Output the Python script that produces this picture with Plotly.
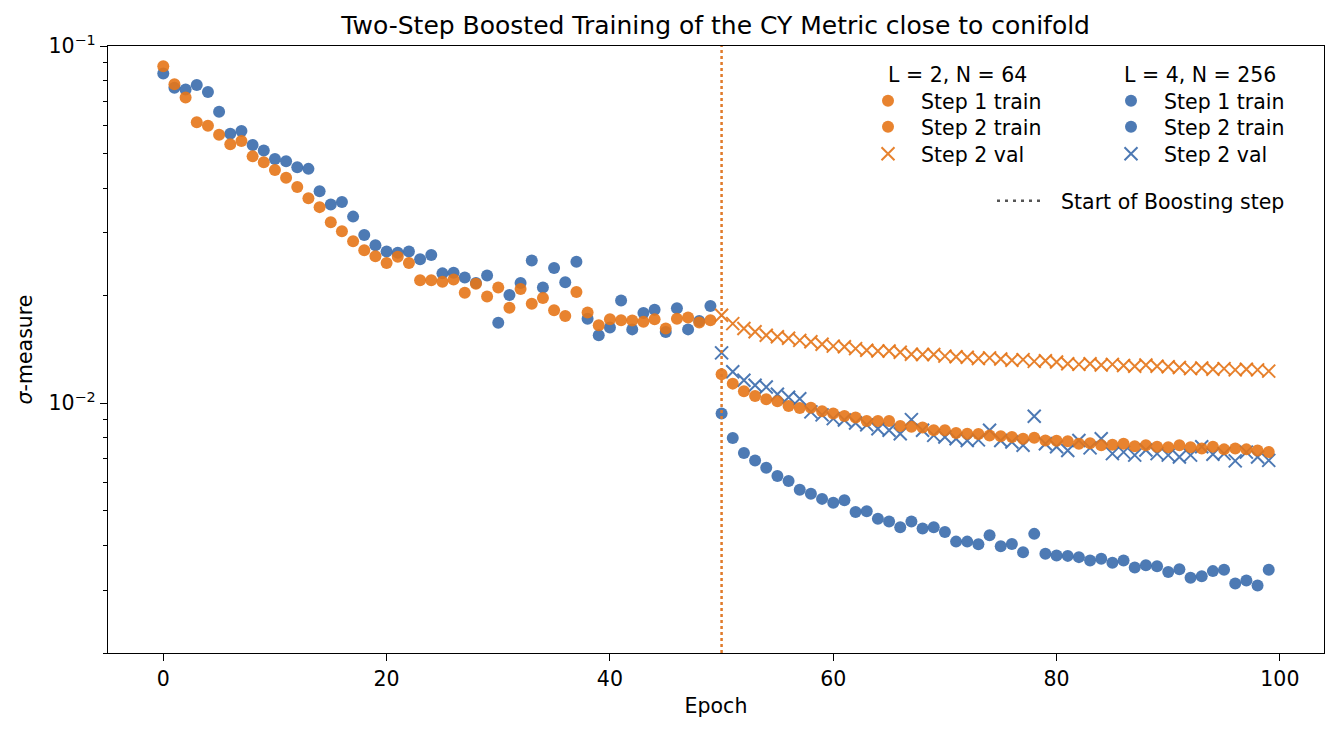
import plotly.graph_objects as go
import math

# ---------------- data ----------------
epochs_step1 = list(range(0, 50))
epochs_step2 = list(range(50, 100))

orange_step1_train = [0.0877, 0.0781, 0.0718, 0.0612, 0.0598, 0.0564, 0.0531, 0.0542, 0.0491, 0.0473,
                      0.0450, 0.0428, 0.0403, 0.0375, 0.0354, 0.0321, 0.0303, 0.0284, 0.0268, 0.0258,
                      0.0247, 0.0257, 0.0247, 0.0221, 0.0221, 0.0219, 0.0222, 0.0204, 0.0216, 0.0199,
                      0.0211, 0.0185, 0.0209, 0.0190, 0.0197, 0.0182, 0.01756, 0.0205, 0.01795, 0.01654,
                      0.01719, 0.01708, 0.01705, 0.0169, 0.01719, 0.01619, 0.01725, 0.01737, 0.01682, 0.01708]

blue_step1_train = [0.0837, 0.0764, 0.0756, 0.0778, 0.0743, 0.0655, 0.0568, 0.0578, 0.0528, 0.0510,
                    0.0483, 0.0476, 0.0458, 0.0453, 0.0392, 0.0360, 0.0366, 0.0333, 0.0296, 0.0277,
                    0.0266, 0.0264, 0.0266, 0.0253, 0.0260, 0.0231, 0.0232, 0.0225, 0.0217, 0.0228,
                    0.0168, 0.0201, 0.0217, 0.0251, 0.0211, 0.0239, 0.0218, 0.0249, 0.01725, 0.0155,
                    0.0163, 0.0194, 0.0161, 0.0179, 0.01826, 0.01584, 0.01845, 0.0161, 0.0170, 0.01873]

orange_step2_train = [0.01206, 0.01135, 0.0108, 0.01048, 0.01026, 0.01013, 0.00983, 0.0097, 0.00972, 0.0095,
                      0.00936, 0.00921, 0.00912, 0.00892, 0.00892, 0.00892, 0.00864, 0.00859, 0.00855, 0.0084,
                      0.0084, 0.00826, 0.00822, 0.0082, 0.00813, 0.00808, 0.00805, 0.00796, 0.00801, 0.00787,
                      0.00785, 0.00783, 0.0077, 0.00773, 0.00763, 0.00766, 0.0077, 0.00758, 0.00763, 0.00756,
                      0.00753, 0.00763, 0.00753, 0.00747, 0.00756, 0.00743, 0.00747, 0.00743, 0.00738, 0.0073]

blue_step2_train = [0.00936, 0.0080, 0.00726, 0.00692, 0.0066, 0.00626, 0.00606, 0.00573, 0.00558, 0.0054,
                    0.00527, 0.00535, 0.00496, 0.00499, 0.00475, 0.00467, 0.0045, 0.00467, 0.00446, 0.0045,
                    0.00436, 0.0041, 0.0041, 0.00403, 0.00427, 0.00398, 0.00404, 0.00383, 0.00431, 0.00379,
                    0.00375, 0.00374, 0.00371, 0.00363, 0.00367, 0.00358, 0.00363, 0.00347, 0.00352, 0.0035,
                    0.00337, 0.00343, 0.00325, 0.00328, 0.00339, 0.00342, 0.00313, 0.00319, 0.00309, 0.00342]

orange_step2_val = [0.01764, 0.01671, 0.01619, 0.01585, 0.0155, 0.01535, 0.0152, 0.0150, 0.01486, 0.01463,
                    0.01445, 0.0144, 0.01422, 0.01407, 0.0140, 0.0140, 0.01389, 0.01372, 0.0137, 0.0137,
                    0.01355, 0.0135, 0.01345, 0.01335, 0.0134, 0.0133, 0.0132, 0.01325, 0.0131, 0.01315,
                    0.01305, 0.0129, 0.01285, 0.0129, 0.0128, 0.01285, 0.01275, 0.0127, 0.0128, 0.0127,
                    0.01265, 0.0126, 0.0125, 0.01255, 0.01245, 0.0125, 0.0124, 0.01245, 0.0124, 0.0123]

blue_step2_val = [0.01384, 0.01225, 0.0116, 0.01123, 0.0111, 0.0106, 0.0104, 0.0103, 0.00946, 0.00928,
                  0.00906, 0.00898, 0.00881, 0.0087, 0.00849, 0.0084, 0.00822, 0.0090, 0.0084, 0.00813,
                  0.00805, 0.00796, 0.00787, 0.0079, 0.0084, 0.00787, 0.00779, 0.00763, 0.0092, 0.0077,
                  0.00756, 0.00738, 0.00787, 0.0075, 0.00796, 0.00723, 0.0073, 0.00716, 0.0074, 0.00723,
                  0.00716, 0.00707, 0.00716, 0.00756, 0.0072, 0.00723, 0.0069, 0.0073, 0.00707, 0.00692]

boost_epoch = 50

x_ticks = [0, 20, 40, 60, 80, 100]
y_major = [0.01, 0.1]
y_major_text = ["10<sup>−2</sup>", "10<sup>−1</sup>"]
y_minor = [k * 1e-3 for k in range(2, 10)] + [k * 1e-2 for k in range(2, 10)]

headers = ["L = 2, N = 64", "L = 4, N = 256"]
entry_names = ["Step 1 train", "Step 2 train", "Step 2 val"]
boost_name = "Start of Boosting step"

# ---------------- style ----------------
BLUE = "#3a6bac"
ORANGE = "#e57518"
FONT = "DejaVu Sans"
FS = 20.5
MS = 12
NB = "\u00a0\u00a0"
W, H = 1334, 731

fig = go.Figure()

def circ(x, y, color, name, legend):
    return go.Scatter(x=x, y=y, mode="markers", name=NB + name, legend=legend,
                      marker=dict(symbol="circle", size=MS, color=color, opacity=0.9,
                                  line=dict(width=0)))

def cross(x, y, color, name, legend):
    return go.Scatter(x=x, y=y, mode="markers", name=NB + name, legend=legend,
                      marker=dict(symbol="x-thin", size=MS + 1, color=color, opacity=0.9,
                                  line=dict(width=2, color=color)))

# blue (L=4) first, orange on top; each legend row is its own legend box
fig.add_trace(circ(epochs_step1, blue_step1_train, BLUE, entry_names[0], "legend4"))
fig.add_trace(circ(epochs_step2, blue_step2_train, BLUE, entry_names[1], "legend5"))
fig.add_trace(cross(epochs_step2, blue_step2_val, BLUE, entry_names[2], "legend6"))
fig.add_trace(circ(epochs_step1, orange_step1_train, ORANGE, entry_names[0], "legend"))
fig.add_trace(circ(epochs_step2, orange_step2_train, ORANGE, entry_names[1], "legend2"))
fig.add_trace(cross(epochs_step2, orange_step2_val, ORANGE, entry_names[2], "legend3"))

# legend proxy for the boosting line
fig.add_trace(go.Scatter(x=[None], y=[None], mode="lines", name=NB + boost_name,
                         legend="legend7",
                         line=dict(color="#555555", width=2.5, dash="3px,5px")))

fig.add_shape(type="line", x0=boost_epoch, x1=boost_epoch, xref="x", yref="paper", y0=0, y1=1,
              line=dict(color="#e07a2a", width=2.5, dash="dot"), layer="above")

axis_common = dict(showline=True, linecolor="black", linewidth=1.3, mirror=True,
                   ticks="outside", ticklen=7, tickwidth=1.3, tickcolor="black",
                   showgrid=False, zeroline=False,
                   tickfont=dict(family=FONT, size=FS, color="black"))

fig.update_xaxes(range=[-4.95, 103.95], tickmode="array", tickvals=x_ticks,
                 title=dict(text="Epoch", font=dict(family=FONT, size=FS, color="black"), standoff=8),
                 **axis_common)
fig.update_yaxes(type="log", range=[math.log10(0.002), -1], tickmode="array",
                 tickvals=y_major, ticktext=y_major_text,
                 minor=dict(tickmode="array", tickvals=y_minor, ticks="outside", ticklen=4,
                            tickwidth=1.1, tickcolor="black", showgrid=False),
                 title=dict(text="<i>σ</i>-measure", font=dict(family=FONT, size=FS, color="black"),
                            standoff=10),
                 **axis_common)

leg_common = dict(xref="container", yref="container", xanchor="left", yanchor="top",
                  bgcolor="rgba(0,0,0,0)", borderwidth=0,
                  font=dict(family=FONT, size=FS, color="black"), tracegroupgap=0)

row_y = [102, 128, 155]
col_marker_x = [888, 1131]
OFF_Y = 21
OFF_X = 20

legends = {}
names = ["legend", "legend2", "legend3", "legend4", "legend5", "legend6"]
for c in range(2):
    for r in range(3):
        key = names[c * 3 + r]
        legends[key] = dict(x=(col_marker_x[c] - OFF_X) / W, y=1 - (row_y[r] - OFF_Y) / H, **leg_common)
legends["legend7"] = dict(x=992 / W, y=1 - (202 - OFF_Y) / H, itemwidth=46, **leg_common)

fig.update_layout(
    width=W, height=H,
    margin=dict(l=108, r=10, t=46, b=78, autoexpand=False),
    paper_bgcolor="white", plot_bgcolor="white",
    font=dict(family=FONT, size=FS, color="black"),
    title=dict(text="Two-Step Boosted Training of the CY Metric close to conifold",
               x=0.5365, xanchor="center", y=1 - 25 / H, yanchor="middle",
               font=dict(family=FONT, size=25, color="black")),
    showlegend=True,
    **legends,
)

header_x = [886, 1122]
for c in range(2):
    fig.add_annotation(text=headers[c], xref="paper", yref="paper",
                       x=(header_x[c] - 108) / (W - 118), y=1 - (75 - 46) / (H - 124),
                       xanchor="left", yanchor="middle", showarrow=False,
                       font=dict(family=FONT, size=FS, color="black"))

fig.write_html("out.html")
